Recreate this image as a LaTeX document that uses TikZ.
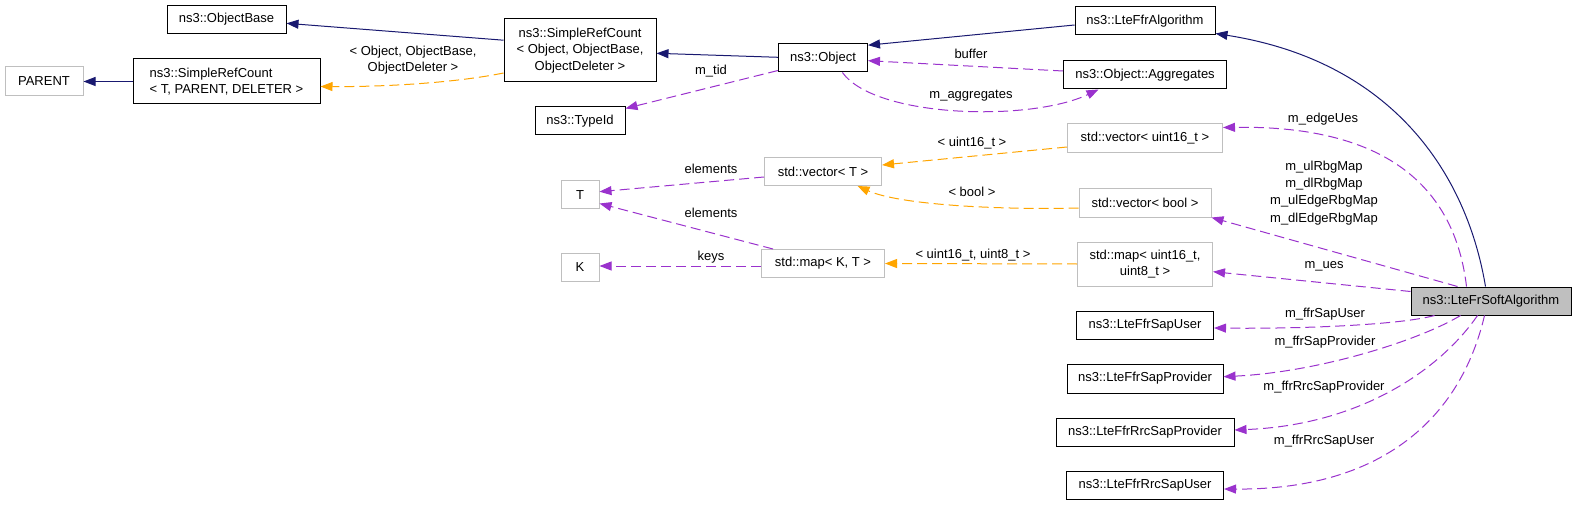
\documentclass[tikz,border=0pt]{standalone}
\usepackage{fontspec}
\setmainfont{Liberation Sans}
\usetikzlibrary{arrows.meta,calc}
\definecolor{inhblue}{HTML}{191970}
\definecolor{usepurple}{HTML}{9A32CD}
\definecolor{tplorange}{HTML}{FFA500}
\definecolor{undocgray}{HTML}{BFBFBF}
\begin{document}
\begin{tikzpicture}[x=1pt,y=-1pt,
  font=\fontsize{13}{16.7}\selectfont,
  cls/.style={draw=black, line width=1pt, inner sep=0pt, align=center},
  ucls/.style={cls, draw=undocgray},
  inh/.style={draw=inhblue, line width=1pt, -{Triangle[length=12pt,width=9pt]}},
  use/.style={draw=usepurple, line width=1pt, dash pattern=on 10pt off 5pt, -{Triangle[length=12pt,width=9pt]}},
  tpl/.style={draw=tplorange, line width=1pt, dash pattern=on 10pt off 5pt, -{Triangle[length=12pt,width=9pt]}},
  lbl/.style={inner sep=0pt, align=center}]
\useasboundingbox (0,0) rectangle (1576,505);

% nodes
\node[ucls, minimum width=78pt, minimum height=29pt] (parent) at (44,81.5) {PARENT};
\node[cls, align=left, minimum width=187pt, minimum height=45pt] (srct) at (226.5,81.5) {ns3::SimpleRefCount\\\textless{} T, PARENT, DELETER \textgreater};
\node[cls, minimum width=119pt, minimum height=28pt] (objbase) at (226.5,19.5) {ns3::ObjectBase};
\node[cls, minimum width=152pt, minimum height=63pt] (srcobj) at (580,50.5) {ns3::SimpleRefCount\\\textless{} Object, ObjectBase,\\ObjectDeleter \textgreater};
\node[cls, minimum width=90pt, minimum height=28pt] (typeid) at (580,121) {ns3::TypeId};
\node[cls, minimum width=89pt, minimum height=28pt] (object) at (823,58) {ns3::Object};
\node[cls, minimum width=140pt, minimum height=28pt] (lteffr) at (1145,21) {ns3::LteFfrAlgorithm};
\node[cls, minimum width=163pt, minimum height=28pt] (aggr) at (1145,75) {ns3::Object::Aggregates};
\node[ucls, minimum width=155pt, minimum height=29pt] (vec16) at (1145,138.5) {std::vector\textless{} uint16\_t \textgreater};
\node[ucls, minimum width=117pt, minimum height=28pt] (vect) at (823,171.5) {std::vector\textless{} T \textgreater};
\node[ucls, minimum width=38pt, minimum height=28pt] (T) at (580,195) {T};
\node[ucls, minimum width=132pt, minimum height=28pt] (vecbool) at (1145,203) {std::vector\textless{} bool \textgreater};
\node[ucls, minimum width=38pt, minimum height=28pt] (K) at (580,267) {K};
\node[ucls, minimum width=123pt, minimum height=28pt] (mapkt) at (823,263.5) {std::map\textless{} K, T \textgreater};
\node[ucls, minimum width=135pt, minimum height=44pt] (map16) at (1145,264) {std::map\textless{} uint16\_t,\\uint8\_t \textgreater};
\node[cls, fill=undocgray, minimum width=160pt, minimum height=28pt] (soft) at (1491,301) {ns3::LteFrSoftAlgorithm};
\node[cls, minimum width=137pt, minimum height=28pt] (sapuser) at (1145,325) {ns3::LteFfrSapUser};
\node[cls, minimum width=156pt, minimum height=29pt] (sapprov) at (1145,378.5) {ns3::LteFfrSapProvider};
\node[cls, minimum width=178pt, minimum height=28pt] (rrcprov) at (1145,432) {ns3::LteFfrRrcSapProvider};
\node[cls, minimum width=157pt, minimum height=28pt] (rrcuser) at (1145,485) {ns3::LteFfrRrcSapUser};

% inheritance
\draw[inh] (srct) -- (parent);
\draw[inh] ($(srcobj.north west)+(0,21.7)$) -- ($(objbase.east)+(0,3.8)$);
\draw[inh] ($(object.west)+(0,-0.7)$) -- ($(srcobj.east)+(0,2.8)$);
\draw[inh] ($(lteffr.west)+(0,4)$) -- ($(object.north east)+(0,1.7)$);
\draw[inh] ($(soft.north west)+(75,0)$) .. controls (1465,165) and (1385,60) .. ($(lteffr.south east)+(0,-2)$);

% usage / template edges
\draw[use] ($(aggr.west)+(0,-4)$) -- ($(object.east)+(0,2.7)$);
\node[lbl] (lbuffer) at (971,54) {buffer};
\draw[use] ($(object.south west)+(64.4,0)$) .. controls (875,118) and (1030,122) .. ($(aggr.south west)+(35.5,0)$);
\node[lbl] (laggr) at (971,96) {m\_aggregates};
\draw[use] ($(object.south west)+(0,-2)$) -- ($(typeid.north east)+(0,2)$);
\node[lbl] (ltid) at (711,71) {m\_tid};
\draw[tpl] ($(srcobj.west)+(0,22.5)$) .. controls (460,82) and (390,87) .. ($(srct.east)+(0,5)$);
\node[lbl] (lsrc) at (413,60) {\textless{} Object, ObjectBase,\\ObjectDeleter \textgreater};

\draw[tpl] ($(vec16.west)+(0,8.5)$) -- ($(vect.east)+(0,-6.5)$);
\node[lbl] (lu16) at (972,143) {\textless{} uint16\_t \textgreater};
\draw[tpl] ($(vecbool.west)+(0,5)$) .. controls (1000,210) and (900,205) .. ($(vect.south east)+(-24.5,0)$);
\node[lbl] (lbool) at (972,192) {\textless{} bool \textgreater};
\draw[use] ($(vect.west)+(0,5.5)$) -- ($(T.east)+(0,-3.3)$);
\node[lbl] (lel1) at (711,169) {elements};
\draw[use] ($(mapkt.north west)+(12,0)$) -- ($(T.south east)+(0,-6)$);
\node[lbl] (lel2) at (711,212.7) {elements};
\draw[use] ($(mapkt.west)+(0,2.5)$) -- ($(K.east)+(0,-1)$);
\node[lbl] (lkeys) at (711,256.7) {keys};
\draw[tpl] (map16.west) -- (mapkt.east);
\node[lbl] (lu168) at (973,255) {\textless{} uint16\_t, uint8\_t \textgreater};

\draw[use] ($(soft.north west)+(56,0)$) .. controls (1455,190) and (1390,125) .. ($(vec16.north east)+(0,4)$);
\node[lbl] (ledge) at (1323,119) {m\_edgeUes};
\draw[use] ($(soft.north west)+(47,0)$) -- (vecbool.south east);
\node[lbl, font=\fontsize{13}{17.3}\selectfont] (lrbg) at (1324,192.8) {m\_ulRbgMap\\m\_dlRbgMap\\m\_ulEdgeRbgMap\\m\_dlEdgeRbgMap};
\draw[use] ($(soft.north west)+(0,5)$) -- ($(map16.east)+(0,7.7)$);
\node[lbl] (lues) at (1324,266.7) {m\_ues};
\draw[use] ($(soft.south west)+(24,0)$) .. controls (1400,325) and (1300,329) .. ($(sapuser.east)+(0,3)$);
\node[lbl] (lsu) at (1325,314) {m\_ffrSapUser};
\draw[use] ($(soft.south west)+(50,0)$) .. controls (1420,340) and (1320,372) .. ($(sapprov.east)+(0,-1.8)$);
\node[lbl] (lsp) at (1325,342) {m\_ffrSapProvider};
\draw[use] ($(soft.south west)+(67,0)$) .. controls (1440,370) and (1360,425) .. ($(rrcprov.east)+(0,-2)$);
\node[lbl] (lrp) at (1324,387) {m\_ffrRrcSapProvider};
\draw[use] ($(soft.south west)+(74,0)$) .. controls (1460,420) and (1380,490) .. ($(rrcuser.east)+(0,4)$);
\node[lbl] (lru) at (1324,441) {m\_ffrRrcSapUser};
\end{tikzpicture}
\end{document}
